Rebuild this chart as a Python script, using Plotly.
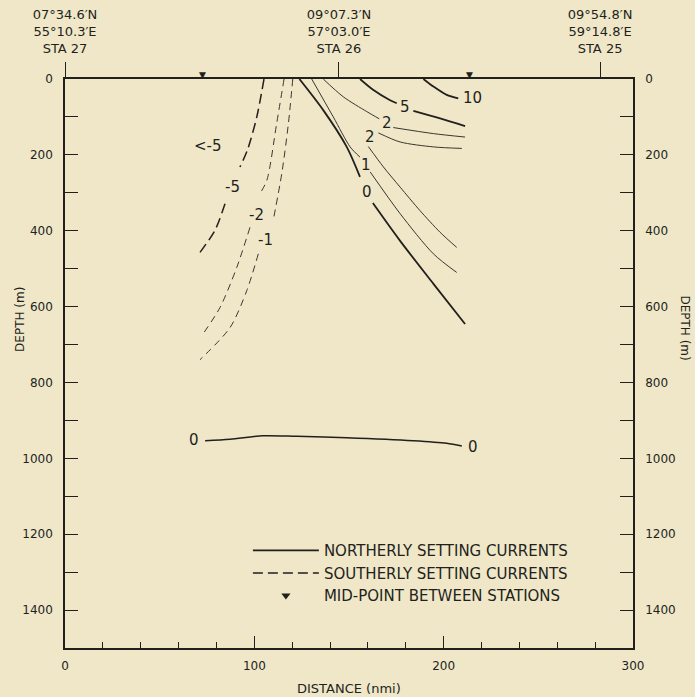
import plotly.graph_objects as go

# ---------------- data ----------------
station_dist = [0, 144.7, 282.6]
station_labels = ["07°34.6′N<br>55°10.3′E<br>STA 27",
                  "09°07.3′N<br>57°03.0′E<br>STA 26",
                  "09°54.8′N<br>59°14.8′E<br>STA 25"]
midpoint_dist = [72.4, 213.7]

# northerly (solid) isotachs, None = gap for label
c10_x = [189.3, 194.6, 201.6, 207.7]
c10_y = [0, 20, 42, 51]
c5_x = [155.8, 162.9, 171.7, 175.2, None, 184.0, 198.1, 211.3]
c5_y = [0, 29, 56, 64, None, 84, 104, 124]
c2a_x = [136.4, 147.0, 159.4, 166.0, None, 173.4, 194.6, 211.3]
c2a_y = [0, 47, 86, 105, None, 128, 144, 153]
c2b_x = [206.9, 198.1, 187.5, 177.0, 168.2, 160.2, None, 165.5, 177.0, 194.6, 209.6]
c2b_y = [444, 404, 347, 285, 232, 178, None, 142, 166, 179, 183]
c1_x = [130.3, 141.7, 150.6, 155.8, None, 161.2, 177.0, 194.6, 206.9]
c1_y = [0, 100, 179, 206, None, 245, 355, 461, 510]
c0_x = [123.8, 136.4, 148.8, 155.8, None, 162.6, 176.9, 194.6, 211.3]
c0_y = [0, 82, 179, 258, None, 327, 426, 540, 646]
c0deep_x = [74.0, 87.2, 104.6, 122.4, 148.8, 184.0, 201.6, 209.6]
c0deep_y = [953.6, 950, 940.4, 942, 945.7, 953.6, 960.5, 967.6]

# southerly (dashed) isotachs
cm5_x = [105.1, 101.3, 96.3, 92.4, None, 84.5, 79.2, 71.3]
cm5_y = [0, 100, 188, 232, None, 329, 399, 457]
cm2_x = [115.7, 111.8, 106.6, 102.6, None, 97.7, 90.7, 81.9, 72.2]
cm2_y = [0, 117, 267, 305, None, 391, 497, 602, 677]
cm1_x = [120.3, 118.0, 114.5, 110.0, None, 102.1, 96.0, 87.2, 71.3]
cm1_y = [0, 117, 249, 372, None, 461, 558, 655, 740]

label_text = ["10", "5", "2", "2", "1", "0", "<-5", "-5", "-2", "-1", "0", "0"]
label_x = [215.4, 179.6, 170.3, 161.1, 159.0, 159.4, 75.7, 88.6, 101.3, 105.7, 68.1, 215.4]
label_y = [51, 73, 117, 154, 227, 298, 177, 284, 358, 425, 951.7, 969.4]

x_ticks = [0, 100, 200, 300]
y_ticks = [0, 200, 400, 600, 800, 1000, 1200, 1400]

# ---------------- styling ----------------
INK = "#231f1c"
THIN = "#3b3630"
BG = "#efe7c8"
FONT = "DejaVu Sans"

fig = go.Figure()

def add_line(x, y, width, dash="solid", name=None, legend=False, rank=None, color=INK):
    fig.add_trace(go.Scatter(
        x=x, y=y, mode="lines",
        line=dict(color=color, width=width, dash=dash, shape="spline", smoothing=0.8),
        name=name, showlegend=legend, legendrank=rank, hoverinfo="skip"))

add_line(c10_x, c10_y, 1.8)
add_line(c5_x, c5_y, 1.8)
add_line(c2a_x, c2a_y, 1.0, color=THIN)
add_line(c2b_x, c2b_y, 1.0, color=THIN)
add_line(c1_x, c1_y, 1.0, color=THIN)
add_line(c0_x, c0_y, 1.8, name="NORTHERLY SETTING CURRENTS", legend=True, rank=1)
add_line(c0deep_x, c0deep_y, 1.5)
add_line(cm5_x, cm5_y, 1.5, dash="10px,5px", name="SOUTHERLY SETTING CURRENTS", legend=True, rank=2)
add_line(cm2_x, cm2_y, 1.0, dash="7px,5px", color=THIN)
add_line(cm1_x, cm1_y, 1.0, dash="7px,5px", color=THIN)

# legend entry for the mid-point symbol
fig.add_trace(go.Scatter(
    x=[None], y=[None], mode="markers",
    marker=dict(symbol="triangle-down", size=8, color=INK),
    name="MID-POINT BETWEEN STATIONS", showlegend=True, legendrank=3, hoverinfo="skip"))

# station positions (carry the top / right axes)
fig.add_trace(go.Scatter(
    x=station_dist, y=[0] * len(station_dist), mode="markers", marker=dict(opacity=0, size=1),
    xaxis="x2", yaxis="y2", showlegend=False, hoverinfo="skip"))

# mid-point triangles sitting on the sea-surface line
for xm in midpoint_dist:
    fig.add_annotation(x=xm, y=0, xref="x", yref="y", text="▼", showarrow=False,
                       yanchor="bottom", xanchor="center", yshift=-3,
                       font=dict(family=FONT, size=9, color=INK))

for t, x, y in zip(label_text, label_x, label_y):
    fig.add_annotation(x=x, y=y, xref="x", yref="y", text=t, showarrow=False,
                       font=dict(family=FONT, size=15, color=INK))

axis_common = dict(showgrid=False, zeroline=False, showline=True, linecolor=INK, linewidth=1.5,
                   tickfont=dict(family=FONT, size=12, color=INK), tickcolor=INK, tickwidth=1)

fig.update_layout(
    width=695, height=697,
    margin=dict(l=65, r=62, t=79, b=49),
    paper_bgcolor=BG, plot_bgcolor=BG,
    font=dict(family=FONT, color=INK),
    xaxis=dict(range=[0, 300], tickvals=x_ticks, ticks="inside", ticklen=12,
               minor=dict(dtick=20, tick0=0, ticks="inside", ticklen=6, tickcolor=INK, tickwidth=1),
               ticklabelstandoff=6, automargin=False, **axis_common),
    xaxis2=dict(range=[0, 300], overlaying="x", side="top", tickvals=station_dist, ticktext=station_labels,
                ticks="outside", ticklen=15, ticklabelstandoff=4, automargin=False, anchor="y2",
                tickfont=dict(family=FONT, size=13, color=INK),
                showgrid=False, zeroline=False, showline=True, linecolor=INK, linewidth=1.5,
                tickcolor=INK, tickwidth=1),
    yaxis=dict(range=[1500, 0], tickvals=y_ticks, ticks="inside", ticklen=13,
               minor=dict(dtick=100, tick0=0, ticks="inside", ticklen=13, tickcolor=INK, tickwidth=1),
               ticklabelstandoff=8, automargin=False, **axis_common),
    yaxis2=dict(range=[1500, 0], overlaying="y", side="right", tickvals=y_ticks, ticks="inside", ticklen=13,
                minor=dict(dtick=100, tick0=0, ticks="inside", ticklen=13, tickcolor=INK, tickwidth=1),
                ticklabelstandoff=8, automargin=False, anchor="x2", **axis_common),
    legend=dict(x=0.322, y=0.2, xanchor="left", yanchor="top", bgcolor="rgba(0,0,0,0)",
                font=dict(family=FONT, size=15, color=INK), itemwidth=66, traceorder="normal",
                tracegroupgap=0),
    showlegend=True,
)

fig.add_annotation(x=0.5, y=0, xref="paper", yref="paper", yshift=-40, text="DISTANCE (nmi)",
                   xanchor="center", yanchor="middle",
                   showarrow=False, font=dict(family=FONT, size=13, color=INK))
fig.add_annotation(x=0, y=635, xref="paper", yref="y", xshift=-45, text="DEPTH (m)", textangle=-90,
                   xanchor="center", yanchor="middle",
                   showarrow=False, font=dict(family=FONT, size=12, color=INK))
fig.add_annotation(x=1, y=655, xref="paper", yref="y", xshift=52, text="DEPTH (m)", textangle=90,
                   xanchor="center", yanchor="middle",
                   showarrow=False, font=dict(family=FONT, size=12, color=INK))

fig.write_html("out.html", config={"displayModeBar": False},
               post_script="document.body.style.margin='0';document.body.style.overflow='hidden';")
